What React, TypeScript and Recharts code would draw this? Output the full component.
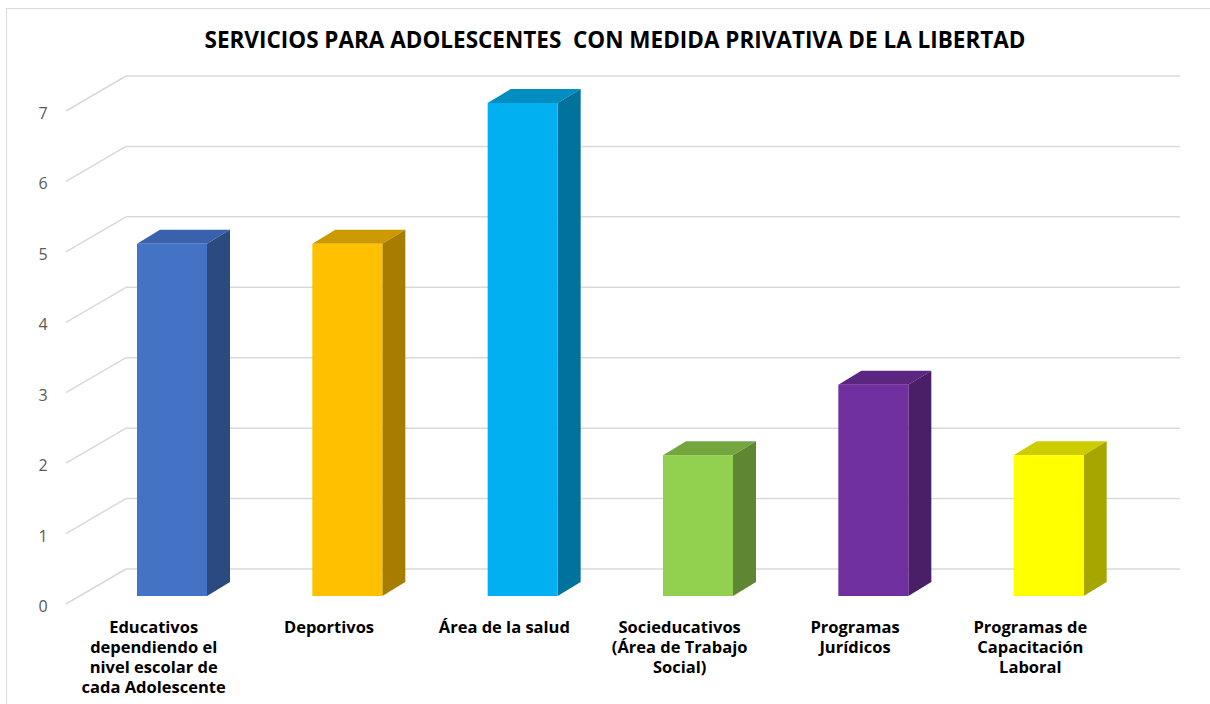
import { BarChart, Bar, XAxis, YAxis, CartesianGrid, Cell } from 'recharts';

const categories = [
  'Educativos\ndependiendo el\nnivel escolar de\ncada Adolescente',
  'Deportivos',
  'Área de la salud',
  'Socieducativos\n(Área de Trabajo\nSocial)',
  'Programas\nJurídicos',
  'Programas de\nCapacitación\nLaboral',
];
const servicios = [5, 5, 7, 2, 3, 2];
const yTicks = [0, 1, 2, 3, 4, 5, 6, 7];

const FRONT = ['#4472C4', '#FFC000', '#00B0F0', '#92D050', '#7030A0', '#FFFF00'];
const TOP = ['#3A62AC', '#CC9A00', '#008DC0', '#74A63F', '#5A2680', '#CCCC00'];
const SIDE = ['#2B4A80', '#A67D00', '#00729C', '#5F8733', '#4A1F68', '#A6A600'];

const data = categories.map((name, i) => ({ name, value: servicios[i] }));

// depth of the 3D box
const DX = 23;
const DY = 14;

const Box3D = (props: any) => {
  const { x, y, width, height, index } = props;
  const i = index ?? 0;
  return (
    <g>
      <polygon
        points={`${x},${y} ${x + DX},${y - DY} ${x + width + DX},${y - DY} ${x + width},${y}`}
        fill={TOP[i]}
      />
      <polygon
        points={`${x + width},${y} ${x + width + DX},${y - DY} ${x + width + DX},${y + height - DY} ${x + width},${y + height}`}
        fill={SIDE[i]}
      />
      <rect x={x} y={y} width={width} height={height} fill={FRONT[i]} />
    </g>
  );
};

// back wall line plus the diagonal running out to the front edge
const GridLine = (props: any) => {
  const { x1, x2, y1 } = props;
  return (
    <g key={props.key}>
      <line x1={x1 - 18} y1={y1 + 8} x2={x1 + 42} y2={y1 - 27} stroke="#d9d9d9" strokeWidth={1.5} />
      <line x1={x1 + 42} y1={y1 - 27} x2={x2 + 44} y2={y1 - 27} stroke="#d9d9d9" strokeWidth={1.5} />
    </g>
  );
};

const YTick = (props: any) => {
  const { y, payload } = props;
  return (
    <text x={43} y={y + 16} textAnchor="middle" fill="#595959" fontSize={16} fontFamily="Open Sans, sans-serif">
      {payload.value}
    </text>
  );
};

const XTick = (props: any) => {
  const { x, payload } = props;
  const lines = String(payload.value).split('\n');
  return (
    <text textAnchor="middle" fill="#000" fontSize={16.5} fontWeight="bold" fontFamily="Open Sans, sans-serif">
      {lines.map((l, k) => (
        <tspan key={k} x={x - 18} y={633 + k * 20}>
          {l}
        </tspan>
      ))}
    </text>
  );
};

export default function App() {
  return (
    <div style={{ position: 'absolute', left: 0, top: 0, width: 1210, height: 704, background: '#fff' }}>
      <div
        style={{
          position: 'absolute',
          left: 6,
          top: 8,
          width: 1220,
          height: 720,
          border: '1.5px solid #d9d9d9',
        }}
      />
      <div
        style={{
          position: 'absolute',
          left: 0,
          top: 24,
          width: 1230,
          textAlign: 'center',
          fontFamily: 'Open Sans, sans-serif',
          fontWeight: 'bold',
          fontSize: 22.5,
          color: '#000',
          whiteSpace: 'pre',
        }}
      >
        {'SERVICIOS PARA ADOLESCENTES  CON MEDIDA PRIVATIVA DE LA LIBERTAD'}
      </div>
      <div style={{ position: 'absolute', left: 0, top: 0 }}>
        <BarChart width={1210} height={704} data={data} margin={{ top: 103, right: 74, bottom: 0, left: 0 }}>
          <CartesianGrid vertical={false} horizontal={GridLine} />
          <XAxis dataKey="name" axisLine={false} tickLine={false} height={108} tick={XTick} interval={0} />
          <YAxis
            domain={[0, 7]}
            ticks={yTicks}
            width={84}
            axisLine={false}
            tickLine={false}
            tick={YTick}
          />
          <Bar dataKey="value" barSize={70} isAnimationActive={false} shape={Box3D}>
            {data.map((d, i) => (
              <Cell key={d.name} fill={FRONT[i]} />
            ))}
          </Bar>
        </BarChart>
      </div>
    </div>
  );
}
